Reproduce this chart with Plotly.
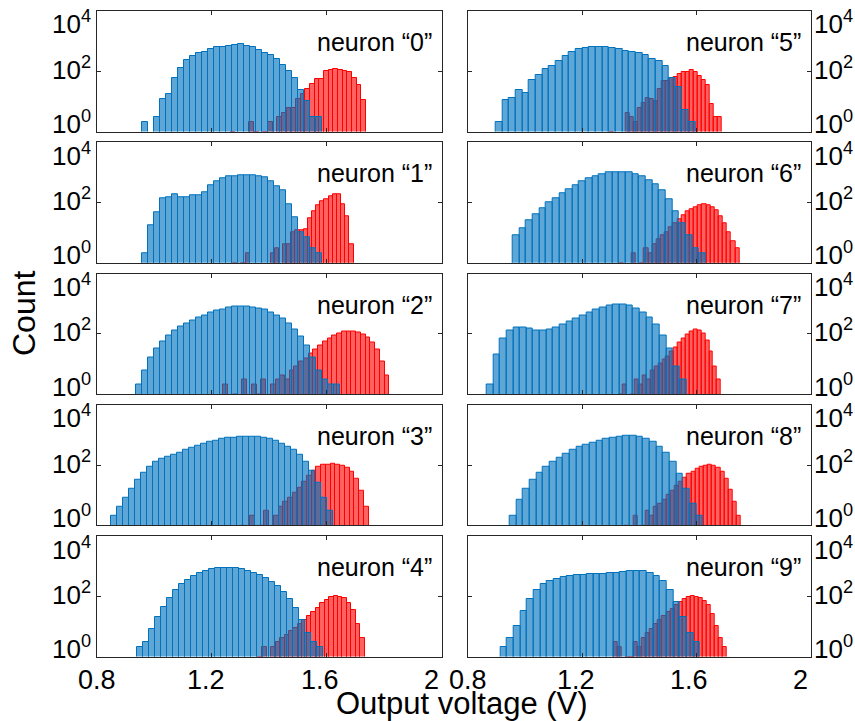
import numpy as np
import plotly.graph_objects as go

# ---------------- data ----------------
neuron_labels = ["0", "1", "2", "3", "4", "5", "6", "7", "8", "9"]

# blue histogram: left edge of first bin, bin width, counts per bin
blue_start = [0.956, 0.956, 0.935, 0.850, 0.940, 0.898, 0.957, 0.866, 0.947, 0.914]
blue_width = [0.0209, 0.0209, 0.0209, 0.0209, 0.0209, 0.0233, 0.0233, 0.0233, 0.0233, 0.0233]
blue_0 = [2, 0, 3, 12, 18, 62, 132, 240, 324, 389, 437, 537, 617, 646, 692, 741, 776, 692,
          617, 513, 398, 339, 251, 158, 102, 59, 23, 10, 3, 3]
blue_1 = [2, 18, 49, 135, 155, 195, 151, 151, 170, 170, 219, 372, 501, 617, 724, 759, 794,
          813, 794, 759, 692, 490, 347, 257, 85, 32, 10, 7, 3, 2]
blue_2 = [2, 6, 16, 32, 56, 89, 126, 178, 224, 282, 355, 417, 501, 575, 661, 724, 776, 794,
          794, 759, 708, 631, 525, 417, 316, 224, 141, 79, 40, 16, 6, 3, 2, 2]
blue_3 = [2, 4, 8, 16, 32, 56, 89, 126, 158, 191, 224, 263, 316, 372, 427, 501, 575, 661,
          724, 794, 832, 871, 891, 891, 851, 794, 724, 631, 525, 417, 316, 214, 126, 63,
          25, 8, 3]
blue_4 = [2, 3, 8, 20, 45, 89, 158, 251, 355, 479, 603, 708, 794, 851, 891, 891, 851, 794,
          708, 603, 501, 398, 302, 214, 141, 79, 40, 16, 6, 3, 2]
blue_5 = [2, 11, 13, 24, 19, 50, 76, 123, 151, 219, 309, 437, 537, 589, 617, 617, 617, 575,
          537, 479, 437, 398, 339, 263, 214, 151, 62, 29, 5, 2]
blue_6 = [8, 14, 25, 40, 63, 100, 141, 200, 282, 380, 501, 631, 759, 891, 1000, 1047, 1047,
          1000, 891, 741, 562, 398, 251, 126, 50, 20, 8, 3, 2]
blue_7 = [2, 20, 71, 126, 158, 166, 151, 132, 126, 141, 166, 209, 263, 331, 417, 525, 631,
          741, 851, 933, 933, 851, 708, 525, 355, 200, 89, 32, 8, 3]
blue_8 = [2, 7, 16, 32, 56, 89, 126, 178, 240, 316, 398, 479, 562, 661, 741, 813, 871, 912,
          912, 851, 741, 603, 417, 251, 126, 50, 16, 5, 2]
blue_9 = [2, 4, 10, 32, 79, 158, 251, 316, 380, 427, 468, 501, 525, 537, 550, 562, 575, 589,
          631, 676, 708, 676, 603, 479, 316, 158, 63, 20, 6, 3]

# red histogram: left edge of first bin, bin width, counts per bin
red_start = [1.265, 1.274, 1.240, 1.300, 1.360, 1.297, 1.330, 1.330, 1.350, 1.310]
red_width = [0.01625, 0.01445, 0.0165, 0.0165, 0.0155, 0.014, 0.0145, 0.0137, 0.0145, 0.0142]
red_0 = [1, 0, 0, 0, 2, 1, 0, 1, 2, 0, 3, 4, 6, 6, 12, 17, 26, 39, 54, 54, 102, 110, 117,
         110, 102, 98, 62, 34, 11]
red_1 = [1, 0, 1, 2, 0, 0, 0, 0, 0, 2, 3, 0, 4, 4, 10, 12, 12, 13, 29, 51, 79, 110, 132, 162,
         186, 186, 85, 35, 4]
red_2 = [2, 0, 1, 0, 3, 0, 2, 1, 3, 0, 2, 3, 4, 3, 6, 8, 12, 15, 22, 30, 40, 55, 70, 85, 100,
         115, 120, 118, 110, 95, 75, 50, 30, 12, 4]
red_3 = [1, 0, 2, 0, 1, 3, 0, 2, 4, 6, 8, 12, 18, 28, 45, 65, 85, 100, 105, 108, 105, 95, 80,
         60, 35, 14, 4]
red_4 = [1, 2, 0, 2, 3, 4, 5, 7, 9, 12, 16, 22, 30, 42, 58, 78, 95, 100, 98, 85, 60, 35, 12, 4]
red_5 = [1, 0, 0, 0, 4, 3, 2, 6, 9, 13, 12, 10, 26, 48, 48, 62, 65, 79, 91, 98, 107, 91, 69,
         50, 34, 8, 3, 3]
red_6 = [1, 0, 0, 2, 0, 1, 3, 2, 4, 6, 8, 10, 15, 20, 28, 38, 50, 62, 72, 80, 85, 80, 70, 55,
         35, 20, 10, 5, 3]
red_7 = [1, 2, 0, 1, 3, 2, 4, 3, 6, 8, 10, 14, 18, 25, 35, 50, 70, 95, 120, 140, 130, 100, 60,
         25, 8, 3]
red_8 = [1, 0, 2, 0, 1, 3, 2, 4, 5, 7, 10, 14, 20, 28, 38, 50, 62, 75, 88, 98, 100, 95, 80,
         60, 35, 15, 6, 2]
red_9 = [3, 2, 0, 1, 1, 3, 2, 4, 6, 8, 12, 16, 22, 30, 38, 50, 65, 80, 92, 100, 95, 85, 70, 50,
         25, 10, 4, 2]

blue_counts = [blue_0, blue_1, blue_2, blue_3, blue_4, blue_5, blue_6, blue_7, blue_8, blue_9]
red_counts = [red_0, red_1, red_2, red_3, red_4, red_5, red_6, red_7, red_8, red_9]

x_ticks = [0.8, 1.2, 1.6, 2.0]
x_ticktext = ["0.8", "1.2", "1.6", "2"]
y_ticks = [1, 100, 10000]
y_ticktext = ["10<sup>0</sup>", "10<sup>2</sup>", "10<sup>4</sup>"]

# ---------------- figure ----------------
W, H = 855, 721
FONT = "Liberation Sans, Arial, Helvetica, sans-serif"
AXCOL = "#262626"
col_x = [(97.0, 441.7), (467.7, 810.7)]
x_label_shift = [0, -6, -7, -10]       # label nudges (px) as in the reference
y_label_shift = [9, 3, -12]             # keep end labels inside the panel height

fig = go.Figure()
layout = {}
annotations = []

for i in range(10):
    n = i + 1
    xa = "x" if n == 1 else f"x{n}"
    ya = "y" if n == 1 else f"y{n}"
    col, row = divmod(i, 5)

    for start, width, counts, fill, edge in [
        (red_start[i], red_width[i], red_counts[i], "rgba(255,0,0,0.62)", "rgb(255,0,0)"),
        (blue_start[i], blue_width[i], blue_counts[i], "rgba(0,114,189,0.63)", "rgb(0,114,189)"),
    ]:
        c = np.array(counts, dtype=float)
        centers = start + (np.arange(len(c)) + 0.5) * width
        yv = [v if v > 0 else None for v in c]
        fig.add_trace(go.Bar(
            x=centers, y=yv, width=width,
            marker=dict(color=fill, line=dict(color=edge, width=1)),
            xaxis=xa, yaxis=ya, showlegend=False, hoverinfo="skip",
        ))

    x0, x1 = col_x[col]
    top = 11 + 131.25 * row
    bot = top + 120.5
    key = "" if n == 1 else str(n)
    layout[f"xaxis{key}"] = dict(
        domain=[x0 / W, x1 / W], range=[0.8, 2.0], anchor=ya, automargin=False,
        tickvals=x_ticks, showticklabels=False,
        ticks="inside", ticklen=4, tickcolor=AXCOL, mirror="ticks",
        showline=True, linecolor=AXCOL, linewidth=1,
        showgrid=False, zeroline=False,
    )
    layout[f"yaxis{key}"] = dict(
        domain=[1 - bot / H, 1 - top / H], type="log", range=[0, 4], anchor=xa,
        automargin=False, side="left" if col == 0 else "right",
        tickvals=y_ticks, showticklabels=False,
        ticks="inside", ticklen=4, tickcolor=AXCOL, mirror="ticks",
        showline=True, linecolor=AXCOL, linewidth=1,
        showgrid=False, zeroline=False,
    )

    # y tick labels
    for tv, tt, sh in zip(y_ticks, y_ticktext, y_label_shift):
        annotations.append(dict(
            text=tt, xref=f"{xa} domain", yref=ya,
            x=0 if col == 0 else 1, y=np.log10(tv),
            xanchor="right" if col == 0 else "left", yanchor="middle",
            xshift=-4 if col == 0 else 1, yshift=sh, showarrow=False,
            font=dict(family=FONT, size=26, color="black"),
        ))
    # x tick labels on the bottom row
    if row == 4:
        for tv, tt, sh in zip(x_ticks, x_ticktext, x_label_shift):
            annotations.append(dict(
                text=tt, xref=xa, yref=f"{ya} domain", x=tv, y=0,
                xanchor="center", yanchor="top", xshift=sh, yshift=-7,
                borderpad=0, showarrow=False,
                font=dict(family=FONT, size=27, color="black"),
            ))
    # panel label
    annotations.append(dict(
        text=f"neuron \u201c{neuron_labels[i]}\u201d", xref=f"{xa} domain",
        yref=f"{ya} domain", x=1, y=1, xanchor="right", yanchor="middle",
        xshift=-8, yshift=-31, showarrow=False,
        font=dict(family=FONT, size=25, color="black"),
    ))

annotations.append(dict(
    text="Count", xref="paper", yref="paper", x=24 / W, y=1 - 313 / H,
    xanchor="center", yanchor="middle", textangle=-90, showarrow=False,
    font=dict(family=FONT, size=32, color="black"),
))
annotations.append(dict(
    text="Output voltage (V)", xref="paper", yref="paper", x=462 / W, y=1 - 703 / H,
    xanchor="center", yanchor="middle", borderpad=0, showarrow=False,
    font=dict(family=FONT, size=31, color="black"),
))

fig.update_layout(
    width=W, height=H, margin=dict(l=0, r=0, t=0, b=0, autoexpand=False),
    paper_bgcolor="white", plot_bgcolor="white",
    barmode="overlay", bargap=0, annotations=annotations, **layout,
)

fig.write_html("out.html")
